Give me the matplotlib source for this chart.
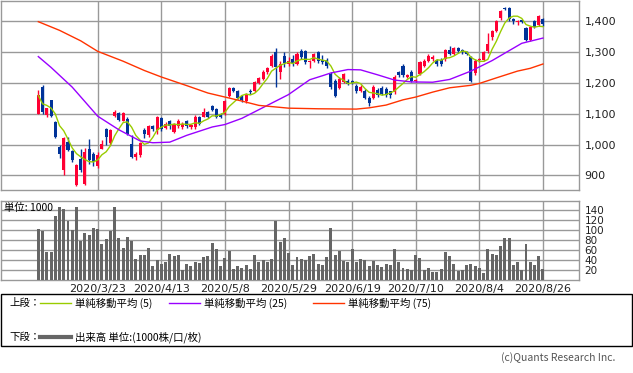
import numpy as np
import pandas as pd
import matplotlib
matplotlib.use('Agg')
import matplotlib.pyplot as plt
from matplotlib.lines import Line2D
from matplotlib.patches import Rectangle

plt.rcParams['font.family'] = ['DejaVu Sans', 'Noto Sans CJK JP']
JP = ['Noto Sans CJK JP', 'DejaVu Sans']

# daily candles, 2020/3/2 .. 2020/8/26 (index 0..119)
opens = [1100, 1188, 1097, 1143, 1073, 992, 919, 1008, 978, 869,
         955, 874, 987, 971, 930, 987, 1052, 1005, 1092, 1101,
         1078, 1084, 1001, 961, 965, 1046, 1030, 1060, 1048, 1085,
         1055, 1076, 1041, 1059, 1057, 1076, 1058, 1057, 1089, 1091,
         1105, 1124, 1116, 1098, 1098, 1159, 1184, 1175, 1159, 1141,
         1175, 1175, 1199, 1213, 1234, 1256, 1299, 1234, 1288, 1261,
         1278, 1261, 1304, 1302, 1266, 1272, 1299, 1274, 1274, 1229,
         1207, 1184, 1202, 1207, 1205, 1191, 1175, 1175, 1152, 1152,
         1178, 1184, 1180, 1172, 1170, 1234, 1256, 1220, 1234, 1206,
         1229, 1256, 1272, 1278, 1274, 1274, 1277, 1306, 1294, 1313,
         1306, 1300, 1283, 1231, 1273, 1274, 1302, 1349, 1369, 1410,
         1441, 1442, 1407, 1396, 1402, 1377, 1339, 1401, 1388, 1406]
closes = [1159, 1105, 1117, 1092, 1024, 969, 1021, 982, 949, 933,
          917, 976, 949, 944, 966, 1001, 1024, 1046, 1105, 1080,
          1102, 1035, 960, 971, 1005, 1033, 1059, 1050, 1088, 1052,
          1068, 1059, 1066, 1076, 1066, 1059, 1062, 1091, 1066, 1107,
          1089, 1113, 1089, 1090, 1141, 1184, 1175, 1152, 1143, 1164,
          1170, 1202, 1215, 1236, 1248, 1288, 1250, 1261, 1263, 1272,
          1265, 1295, 1283, 1266, 1270, 1293, 1272, 1266, 1253, 1188,
          1159, 1213, 1229, 1197, 1200, 1173, 1188, 1152, 1134, 1188,
          1162, 1165, 1162, 1160, 1220, 1224, 1224, 1226, 1207, 1210,
          1267, 1272, 1288, 1285, 1261, 1260, 1306, 1295, 1313, 1302,
          1299, 1295, 1205, 1272, 1277, 1299, 1326, 1369, 1401, 1433,
          1439, 1406, 1400, 1401, 1398, 1339, 1380, 1382, 1417, 1392]
highs = [1177, 1192, 1120, 1146, 1076, 998, 1024, 1025, 982, 936,
         985, 988, 1017, 975, 975, 1015, 1055, 1050, 1112, 1105,
         1105, 1088, 1031, 975, 1010, 1055, 1062, 1064, 1092, 1088,
         1072, 1080, 1070, 1084, 1072, 1080, 1068, 1095, 1092, 1118,
         1110, 1128, 1120, 1102, 1145, 1186, 1188, 1178, 1162, 1168,
         1180, 1205, 1220, 1240, 1252, 1292, 1312, 1270, 1300, 1285,
         1290, 1300, 1308, 1305, 1275, 1297, 1302, 1290, 1280, 1235,
         1212, 1218, 1232, 1212, 1210, 1195, 1192, 1180, 1158, 1192,
         1182, 1190, 1188, 1175, 1225, 1238, 1260, 1230, 1240, 1214,
         1270, 1276, 1292, 1290, 1278, 1280, 1310, 1320, 1316, 1316,
         1310, 1303, 1288, 1276, 1282, 1302, 1360, 1372, 1404, 1436,
         1446, 1444, 1410, 1404, 1405, 1380, 1383, 1405, 1420, 1410]
lows = [1098, 1100, 1090, 1088, 1020, 958, 901, 979, 945, 866,
        912, 870, 937, 930, 925, 985, 1000, 1000, 1090, 1075,
        1075, 1031, 958, 950, 960, 1020, 1025, 1045, 1035, 1045,
        1050, 1052, 1038, 1055, 1050, 1055, 1052, 1052, 1062, 1088,
        1085, 1108, 1085, 1086, 1095, 1155, 1170, 1148, 1138, 1136,
        1165, 1170, 1195, 1210, 1230, 1252, 1186, 1213, 1250, 1255,
        1255, 1258, 1278, 1260, 1249, 1268, 1265, 1262, 1248, 1180,
        1155, 1180, 1198, 1192, 1195, 1168, 1170, 1148, 1125, 1148,
        1155, 1160, 1155, 1150, 1165, 1220, 1220, 1215, 1204, 1202,
        1225, 1250, 1268, 1272, 1255, 1255, 1272, 1290, 1290, 1298,
        1295, 1290, 1202, 1225, 1268, 1270, 1298, 1340, 1365, 1405,
        1436, 1400, 1392, 1388, 1394, 1336, 1336, 1378, 1385, 1385]
volumes = [102, 99, 57, 57, 128, 147, 142, 119, 100, 147,
           79, 95, 91, 105, 102, 72, 82, 99, 147, 85,
           65, 87, 79, 43, 50, 50, 65, 28, 40, 32,
           37, 52, 49, 50, 20, 32, 28, 37, 35, 47,
           49, 75, 62, 28, 45, 58, 23, 28, 25, 30,
           22, 50, 37, 40, 37, 42, 118, 77, 85, 55,
           30, 47, 42, 40, 48, 52, 32, 30, 47, 105,
           50, 58, 39, 37, 63, 37, 43, 41, 28, 39,
           30, 27, 33, 30, 63, 37, 25, 23, 21, 50,
           45, 21, 25, 16, 16, 23, 56, 48, 32, 19,
           20, 30, 33, 28, 25, 15, 63, 52, 50, 68,
           85, 85, 30, 37, 20, 73, 37, 30, 48, 22]

# moving averages (need history before 3/2)
ma25_idx = [0, 3, 8, 14, 19, 24, 27, 31, 35, 41, 44, 48, 54, 59, 64, 67, 69, 73, 76,
            80, 84, 88, 93, 97, 102, 107, 111, 114, 119]
ma25_val = [1285, 1250, 1186, 1092, 1048, 1012, 1006, 1008, 1030, 1057, 1065, 1085, 1127,
            1162, 1210, 1223, 1232, 1243, 1242, 1226, 1209, 1203, 1202, 1211, 1238, 1272,
            1304, 1328, 1345]
ma75_idx = [0, 5, 10, 14, 20, 25, 29, 35, 40, 44, 48, 52, 59, 66, 75, 78, 82, 86, 89,
            93, 97, 102, 104, 108, 113, 116, 119]
ma75_val = [1398, 1370, 1336, 1302, 1270, 1240, 1219, 1191, 1167, 1154, 1141, 1127, 1118,
            1116, 1115, 1119, 1128, 1145, 1154, 1170, 1184, 1192, 1198, 1216, 1238, 1247, 1261]

date_pos = [14, 29, 44, 59, 74, 89, 104, 119]
date_labels = ['2020/3/23', '2020/4/13', '2020/5/8', '2020/5/29',
               '2020/6/19', '2020/7/10', '2020/8/4', '2020/8/26']
price_ticks = [900, 1000, 1100, 1200, 1300, 1400]
vol_ticks = [20, 40, 60, 80, 100, 120, 140]

UP = '#ff0033'
DOWN = '#003399'
GRID = '#999999'

W, H = 633, 373
fig = plt.figure(figsize=(W / 100, H / 100), dpi=100)
fig.patch.set_facecolor('white')

ax1 = fig.add_axes([1 / W, 1 - 190 / H, 578 / W, 189 / H])
ax2 = fig.add_axes([1 / W, 1 - 280 / H, 578 / W, 79 / H])

df = pd.DataFrame({'o': opens, 'h': highs, 'l': lows, 'c': closes, 'v': volumes})
df['ma5'] = df['c'].rolling(5, min_periods=1).mean()
x = np.arange(len(df))
up = df['c'] >= df['o']
cols = np.where(up, UP, DOWN)

# candles
ax1.vlines(x, df['l'], df['h'], colors=cols, lw=1, zorder=3)
body_lo = np.minimum(df['o'], df['c'])
body_h = np.maximum(np.abs(df['c'] - df['o']), 2)
ax1.bar(x, body_h, bottom=body_lo, width=0.72, color=cols, linewidth=0, zorder=4)

ax1.plot(x, df['ma5'], color='#99cc00', lw=1, zorder=5)
ax1.plot(ma25_idx, ma25_val, color='#9900ff', lw=1, zorder=5)
ax1.plot(ma75_idx, ma75_val, color='#ff3300', lw=1, zorder=5)

# volume
ax2.bar(x, df['v'], width=0.7, color='#666666', linewidth=0, zorder=3)

xlim = (-8.8, 127.5)
for ax in (ax1, ax2):
    ax.set_xlim(*xlim)
    ax.set_xticks(date_pos)
    ax.grid(True, color=GRID, lw=1, zorder=0)
    ax.set_axisbelow(True)
    for s in ax.spines.values():
        s.set_color(GRID)
        s.set_linewidth(1)
    ax.yaxis.tick_right()
    ax.tick_params(length=0, colors='#222222')

ax1.set_ylim(853, 1465)
ax1.set_yticks(price_ticks)
ax1.set_yticklabels([f'{v:,}' for v in price_ticks], fontsize=8)
ax1.tick_params(axis='y', pad=4)
ax1.set_xticklabels([])

ax2.set_ylim(0, 158)
ax2.set_yticks(vol_ticks)
ax2.set_yticklabels([str(v) for v in vol_ticks], fontsize=7.5)
ax2.tick_params(axis='y', pad=4)
ax2.set_xticklabels(date_labels, fontsize=8)
ax2.tick_params(axis='x', pad=3)
ax2.text(0.005, 0.97, '単位: 1000', transform=ax2.transAxes, fontsize=7.5,
         family=JP, va='top', ha='left', zorder=6)

# legend box
fig.patches.append(Rectangle((1 / W, 1 - 346 / H), 631 / W, 52 / H, transform=fig.transFigure,
                             fill=False, edgecolor='#000000', lw=1))
y1 = 1 - 303 / H
y2 = 1 - 337 / H
fig.text(9 / W, y1, '上段：', fontsize=7.5, family=JP, va='center')
items = [(40, '#99cc00', '単純移動平均 (5)'), (169, '#9900ff', '単純移動平均 (25)'),
         (313, '#ff3300', '単純移動平均 (75)')]
for px, c, lab in items:
    fig.lines.append(Line2D([px / W, (px + 31) / W], [y1, y1], transform=fig.transFigure,
                            color=c, lw=1))
    fig.text((px + 35) / W, y1, lab, fontsize=7.5, family=JP, va='center')
fig.text(9 / W, y2, '下段：', fontsize=7.5, family=JP, va='center')
fig.lines.append(Line2D([40 / W, 71 / W], [y2, y2], transform=fig.transFigure,
                        color='#666666', lw=3))
fig.text(75 / W, y2, '出来高 単位:(1000株/口/枚)', fontsize=7.5, family=JP, va='center')

fig.text(615 / W, 1 - 358 / H, '(c)Quants Research Inc.', fontsize=7.5, family=JP,
         color='#555555', ha='right', va='center')

fig.savefig('out.png', dpi=100, facecolor='white')
